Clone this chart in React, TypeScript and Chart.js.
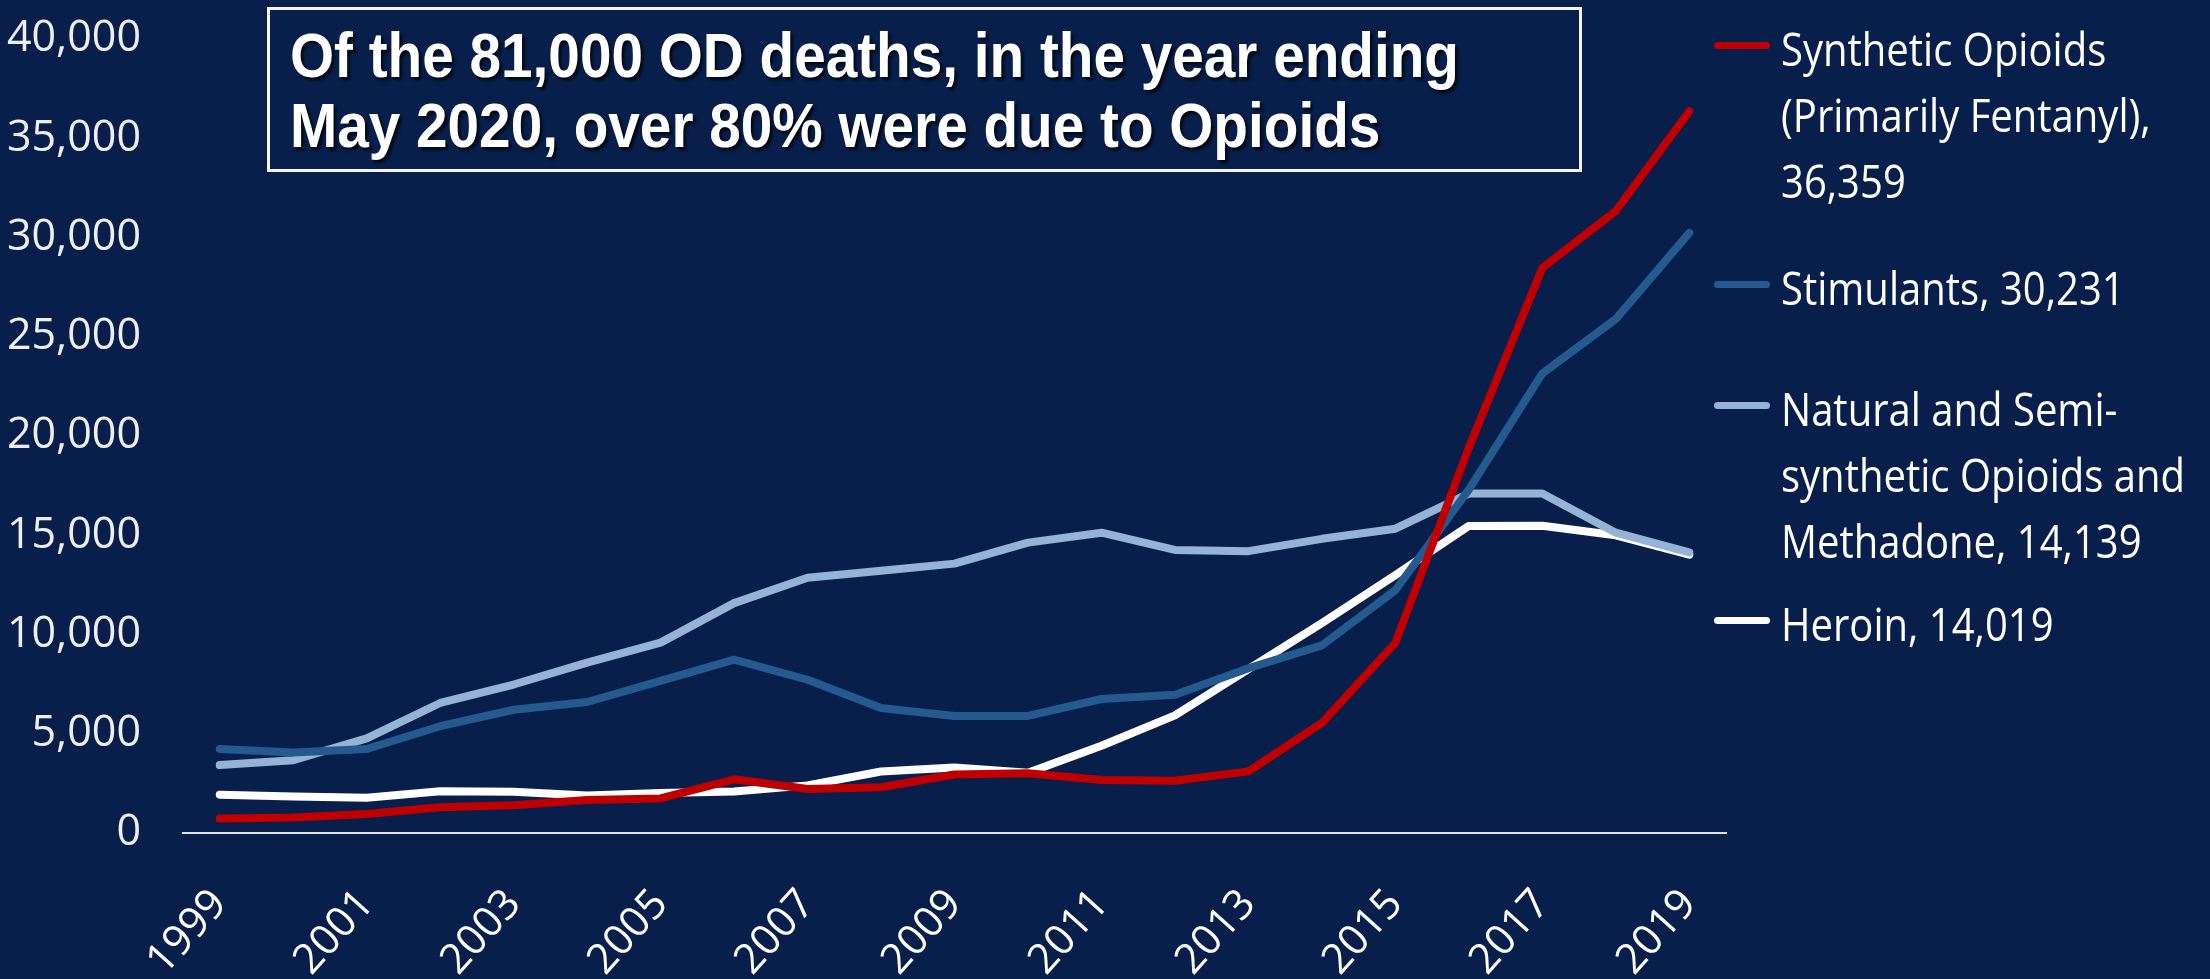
import React, { useEffect, useRef } from 'react';
import { Chart, registerables } from 'chart.js';

Chart.register(...registerables);

// ---------- data ----------
const years = [
  '1999', '2000', '2001', '2002', '2003', '2004', '2005', '2006', '2007', '2008',
  '2009', '2010', '2011', '2012', '2013', '2014', '2015', '2016', '2017', '2018', '2019',
];

const syntheticOpioids = [
  730, 782, 957, 1295, 1400, 1664, 1742, 2707, 2213, 2306,
  2946, 3007, 2666, 2628, 3105, 5544, 9580, 19413, 28466, 31335, 36359,
];

const stimulants = [
  4230, 4060, 4230, 5380, 6210, 6600, 7660, 8730, 7720, 6300,
  5890, 5900, 6750, 6960, 8300, 9450, 12230, 17300, 23150, 25890, 30231,
];

const naturalSemiSynthetic = [
  3420, 3670, 4770, 6550, 7480, 8580, 9590, 11580, 12860, 13210,
  13570, 14630, 15130, 14260, 14200, 14820, 15330, 17100, 17100, 15130, 14139,
];

const heroin = [
  1930, 1840, 1779, 2100, 2080, 1890, 2009, 2088, 2399, 3100,
  3300, 3036, 4397, 5925, 8257, 10574, 12989, 15469, 15482, 14996, 14019,
];

const seriesNames = [
  'Synthetic Opioids (Primarily Fentanyl)',
  'Stimulants',
  'Natural and Semi-synthetic Opioids and Methadone',
  'Heroin',
];

const legendText = [
  ['Synthetic Opioids', '(Primarily Fentanyl),', '36,359'],
  ['Stimulants, 30,231'],
  ['Natural and Semi-', 'synthetic Opioids and', 'Methadone, 14,139'],
  ['Heroin, 14,019'],
];

const yMin = 0;
const yMax = 40000;
const yStep = 5000;

const titleLines = [
  'Of the 81,000 OD deaths, in the year ending',
  'May 2020, over 80% were due to Opioids',
];

// ---------- styles ----------
const BG = '#071f4a';
const COLORS = ['#c00000', '#245a8d', '#95b3d7', '#ffffff'];
const LEGEND_Y = [45, 284, 405, 620];

export default function App() {
  const canvasRef = useRef<HTMLCanvasElement | null>(null);

  useEffect(() => {
    document.body.style.margin = '0';
    document.body.style.background = BG;
    const canvas = canvasRef.current;
    if (!canvas) return;

    const seriesData = [syntheticOpioids, stimulants, naturalSemiSynthetic, heroin];

    const chart = new Chart(canvas, {
      type: 'line',
      data: {
        labels: years,
        datasets: seriesData.map((d, i) => ({
          label: seriesNames[i],
          data: d,
          borderColor: COLORS[i],
          backgroundColor: COLORS[i],
          borderWidth: 8,
          pointRadius: 0,
          pointHoverRadius: 0,
          tension: 0,
          borderJoinStyle: 'round' as const,
          borderCapStyle: 'round' as const,
          fill: false,
          order: i,
        })),
      },
      options: {
        responsive: false,
        devicePixelRatio: 1,
        animation: false,
        layout: { padding: { left: 0, right: 484, top: 39, bottom: 0 } },
        plugins: {
          legend: { display: false },
          tooltip: { enabled: false },
          title: { display: false },
        },
        scales: {
          x: {
            type: 'category',
            offset: true,
            grid: { display: false, drawTicks: false },
            border: { display: true, color: '#e2e2e2', width: 2 },
            ticks: {
              autoSkip: false,
              maxRotation: 48,
              minRotation: 48,
              padding: 47,
              color: '#ffffff',
              font: { family: 'Open Sans', size: 42 },
              callback: (_v: any, idx: number) => (idx % 2 === 0 ? years[idx] : ''),
            },
            afterFit: (scale: any) => {
              scale.height = 146;
              scale.paddingLeft = 0;
              scale.paddingRight = 0;
            },
          },
          y: {
            min: yMin,
            max: yMax,
            grid: { display: false, drawTicks: false },
            border: { display: false },
            ticks: {
              stepSize: yStep,
              padding: 42,
              color: '#eeeeee',
              font: { family: 'Open Sans', size: 43 },
              callback: (v: any) => Number(v).toLocaleString('en-US'),
            },
            afterFit: (scale: any) => {
              scale.width = 183;
              scale.paddingTop = 0;
              scale.paddingBottom = 0;
            },
          },
        },
      },
    });

    return () => {
      chart.destroy();
    };
  }, []);

  return (
    <div
      style={{
        position: 'relative',
        width: 2210,
        height: 979,
        background: BG,
        overflow: 'hidden',
      }}
    >
      <canvas
        ref={canvasRef}
        width={2210}
        height={979}
        style={{ position: 'absolute', left: 0, top: 0, width: 2210, height: 979 }}
      />
      <div
        style={{
          position: 'absolute',
          left: 267,
          top: 7,
          width: 1315,
          height: 165,
          boxSizing: 'border-box',
          border: '3.5px solid #f4f4f4',
          background: BG,
        }}
      />
      <div
        style={{
          position: 'absolute',
          left: 290,
          top: 20,
          fontFamily: '"Liberation Sans", Arial, sans-serif',
          fontWeight: 700,
          fontSize: 63,
          lineHeight: '70px',
          color: '#ffffff',
          textShadow: '3px 3px 3px rgba(0,0,0,0.7)',
          whiteSpace: 'nowrap',
          transform: 'scaleX(0.9)',
          transformOrigin: '0 0',
        }}
      >
        {titleLines.map((t, i) => (
          <div key={i}>{t}</div>
        ))}
      </div>
      {legendText.map((lines, i) => (
        <React.Fragment key={i}>
          <div
            style={{
              position: 'absolute',
              left: 1714,
              top: LEGEND_Y[i] - 3.5,
              width: 56,
              height: 7,
              borderRadius: 4,
              background: COLORS[i],
            }}
          />
          <div
            style={{
              position: 'absolute',
              left: 1781,
              top: LEGEND_Y[i] - 30,
              fontFamily: '"Open Sans", sans-serif',
              fontSize: 46,
              lineHeight: '66px',
              color: '#ffffff',
              whiteSpace: 'nowrap',
              transform: 'scaleX(0.87)',
              transformOrigin: '0 0',
            }}
          >
            {lines.map((l, j) => (
              <div key={j}>{l}</div>
            ))}
          </div>
        </React.Fragment>
      ))}
    </div>
  );
}
